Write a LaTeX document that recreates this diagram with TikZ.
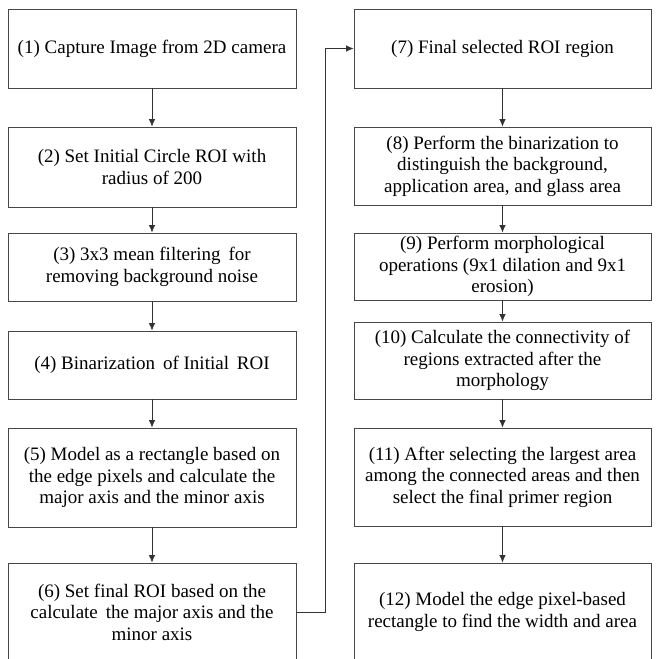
\documentclass[tikz,border=0pt]{standalone}
\usepackage{fontspec}
\setmainfont{LiberationSerif}[Extension=.ttf, UprightFont=*-Regular, BoldFont=*-Bold]
\usetikzlibrary{arrows.meta,shadows}
\begin{document}
\begin{tikzpicture}[x=1pt,y=-1pt,
  stepbox/.style={draw=black!72, line width=0.9pt, fill=white, align=center, inner sep=0pt,
    drop shadow={shadow xshift=0pt, shadow yshift=-1.3pt, fill=black!40, opacity=1},
    font=\rmfamily\fontsize{19}{21.5}\selectfont},
  arr/.style={draw=black!80, line width=0.7pt, -{Latex[length=7.5pt,width=6.5pt]}}]
\clip (0,0) rectangle (656,659);
\fill[white] (0,0) rectangle (656,659);
% left column
\node[stepbox, minimum width=288, minimum height=79] (b1) at (152,48.5) {(1) Capture Image from 2D camera};
\node[stepbox, minimum width=288, minimum height=80] (b2) at (152,167) {(2) Set Initial Circle ROI with\\radius of 200};
\node[stepbox, minimum width=288, minimum height=68] (b3) at (152,267) {(3) 3x3 mean filtering\, for\\removing background noise};
\node[stepbox, minimum width=288, minimum height=68] (b4) at (152,365) {(4) Binarization\, of Initial\, ROI};
\node[stepbox, minimum width=288, minimum height=99] (b5) at (152,477.5) {(5) Model as a rectangle based on\\the edge pixels and calculate the\\major axis and the minor axis};
\node[stepbox, minimum width=288, minimum height=98] (b6) at (152,612) {(6) Set final ROI based on the\\calculate\, the major axis and the\\minor axis};
% right column
\node[stepbox, minimum width=297, minimum height=79] (b7) at (502.5,48.5) {(7) Final selected ROI region};
\node[stepbox, minimum width=297, minimum height=78] (b8) at (502.5,166) {(8) Perform the binarization to\\distinguish the background,\\application area, and glass area};
\node[stepbox, minimum width=297, minimum height=67] (b9) at (502.5,266.5) {(9) Perform morphological\\operations (9x1 dilation and 9x1\\erosion)};
\node[stepbox, minimum width=297, minimum height=77] (b10) at (502.5,360.5) {(10) Calculate the connectivity of\\regions extracted after the\\morphology};
\node[stepbox, minimum width=297, minimum height=98] (b11) at (502.5,477) {(11) After selecting the largest area\\among the connected areas and then\\select the final primer region};
\node[stepbox, minimum width=297, minimum height=98] (b12) at (502.5,612) {(12) Model the edge pixel-based\\rectangle to find the width and area};
% connectors
\draw[arr] (b1) -- (b2);
\draw[arr] (b2) -- (b3);
\draw[arr] (b3) -- (b4);
\draw[arr] (b4) -- (b5);
\draw[arr] (b5) -- (b6);
\draw[arr] (b6.east) -- ++(29,0) |- (b7.west);
\draw[arr] (b7) -- (b8);
\draw[arr] (b8) -- (b9);
\draw[arr] (b9) -- (b10);
\draw[arr] (b10) -- (b11);
\draw[arr] (b11) -- (b12);
\end{tikzpicture}
\end{document}
